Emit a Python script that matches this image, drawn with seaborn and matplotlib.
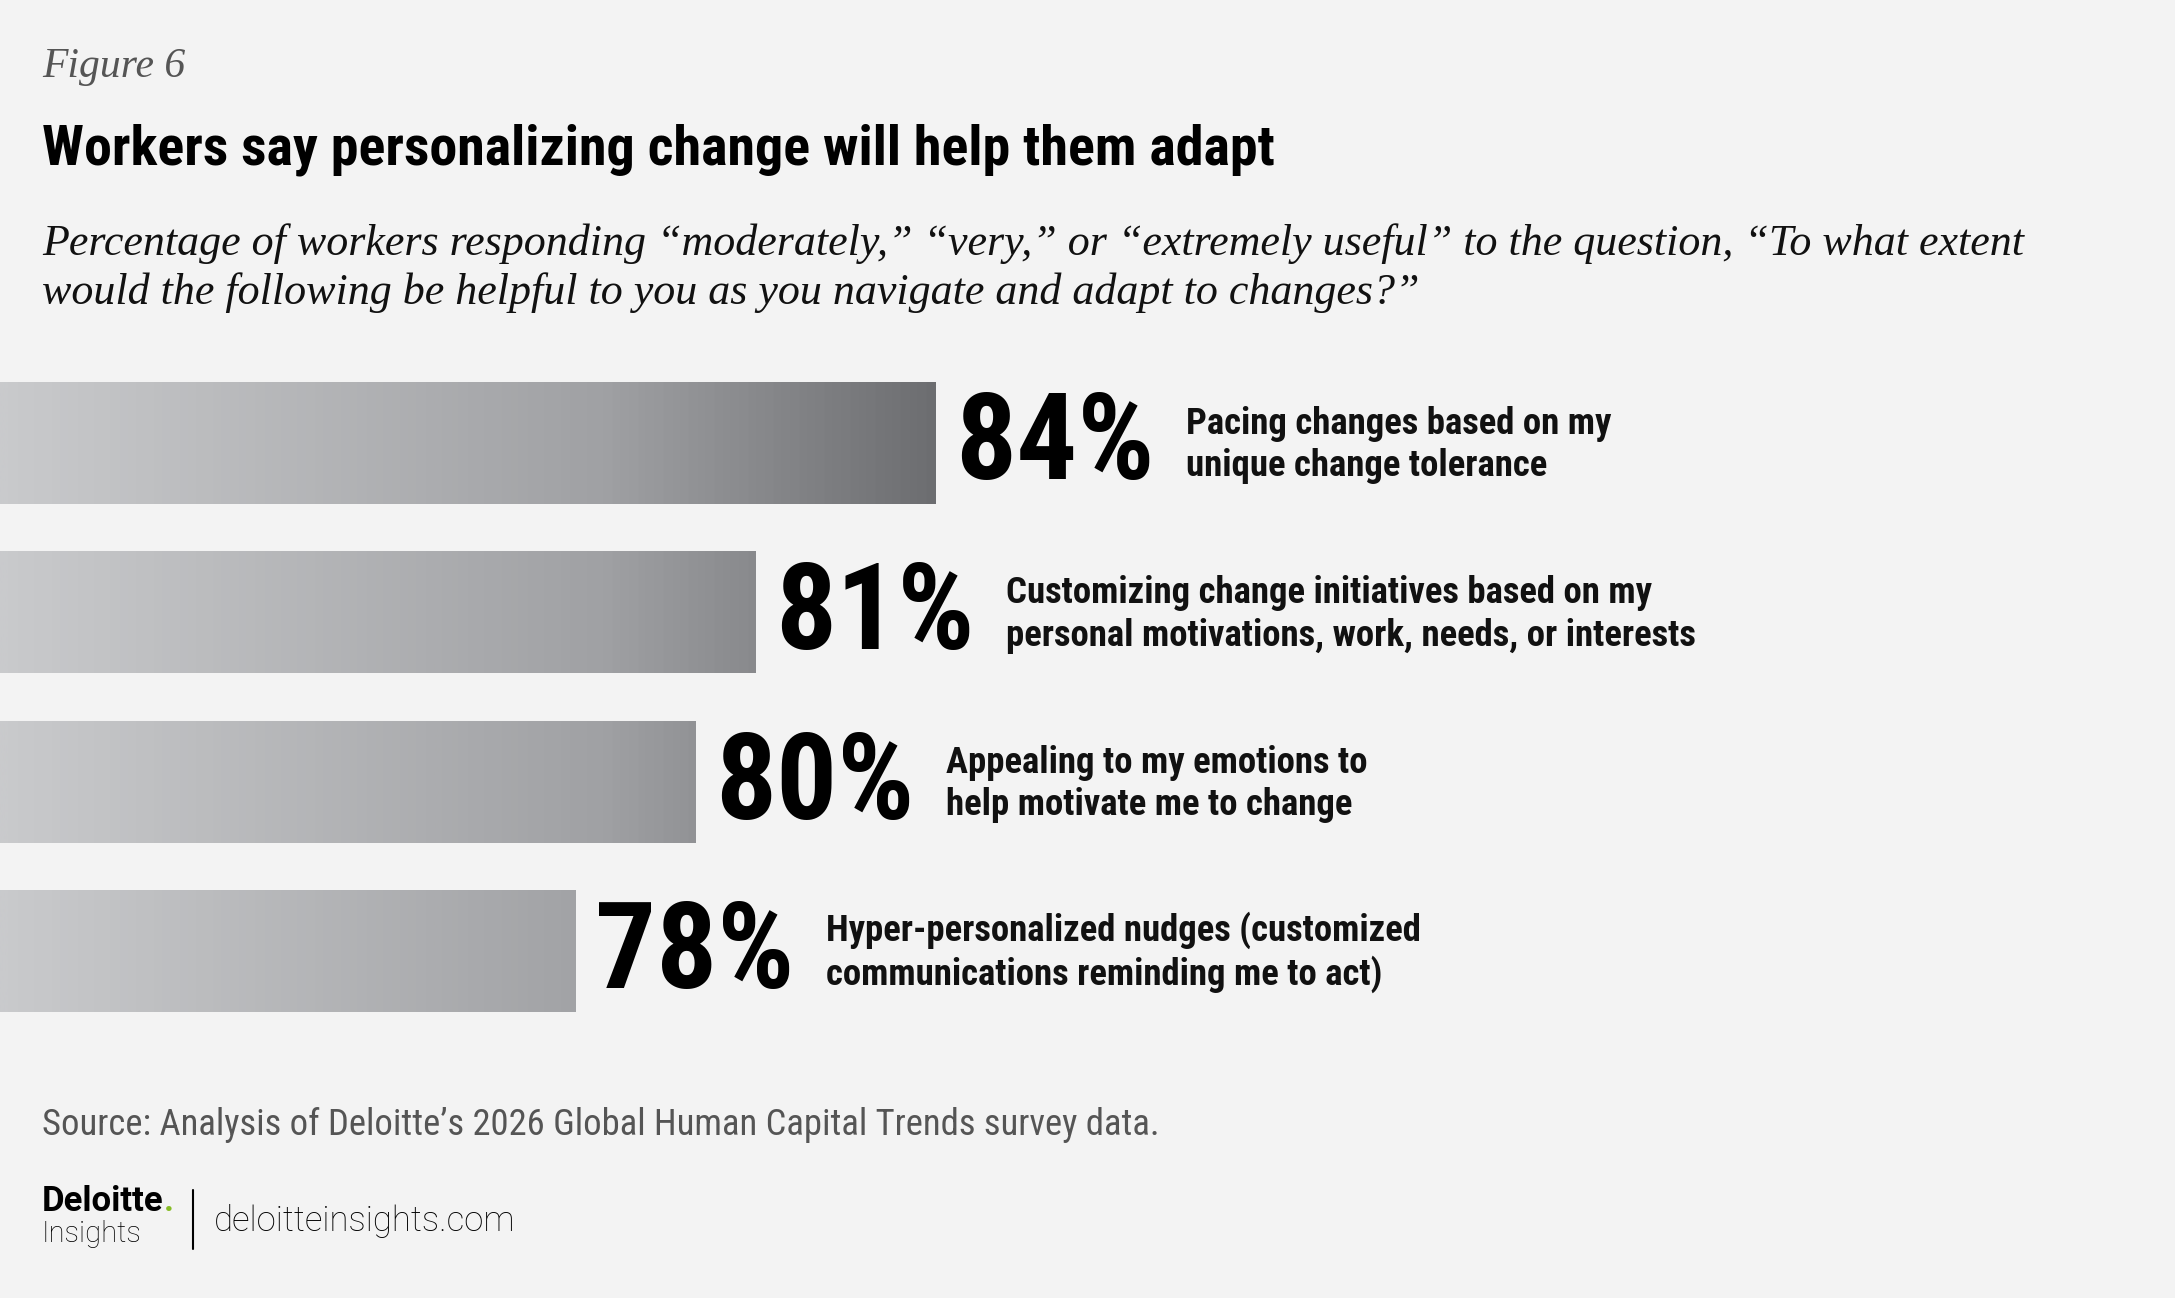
import matplotlib
matplotlib.use("Agg")
import matplotlib.pyplot as plt
from matplotlib import font_manager as fm
from matplotlib.colors import LinearSegmentedColormap
import numpy as np
import pandas as pd
import seaborn as sns

# ---------------- data ----------------
categories = [
    "Pacing changes based on my\nunique change tolerance",
    "Customizing change initiatives based on my\npersonal motivations, work, needs, or interests",
    "Appealing to my emotions to\nhelp motivate me to change",
    "Hyper-personalized nudges (customized\ncommunications reminding me to act)",
]
values = [84, 81, 80, 78]
value_labels = ["84%", "81%", "80%", "78%"]

fig_label = "Figure 6"
title = "Workers say personalizing change will help them adapt"
subtitle = ("Percentage of workers responding \u201cmoderately,\u201d \u201cvery,\u201d or \u201cextremely useful\u201d to the question, \u201cTo what extent\n"
            "would the following be helpful to you as you navigate and adapt to changes?\u201d")
source = "Source: Analysis of Deloitte\u2019s 2026 Global Human Capital Trends survey data."

# ---------------- style ----------------
sns.set_theme(style="white")
available = {f.name for f in fm.fontManager.ttflist}


def pick(*names):
    for n in names:
        if n in available:
            return n
    return "DejaVu Sans"


COND = pick("Liberation Sans Narrow", "DejaVu Sans Condensed", "Roboto Condensed", "Liberation Sans")
SERIF = pick("Liberation Serif", "DejaVu Serif")
SANS = pick("Roboto", "Lato", "Open Sans", "DejaVu Sans")
plt.rcParams["font.family"] = [COND, "DejaVu Sans"]

BG = "#f3f3f3"
W, H = 2175, 1298
fig = plt.figure(figsize=(W / 100, H / 100), dpi=100, facecolor=BG)


def fx(px):
    return px / W


def fy(py):
    return 1 - py / H


# ---------------- bars ----------------
XMIN = 68.4
XMAX = XMIN + W / 60.0
row_px = 169.6
top_px = 442.6 - 0.5 * row_px
ax_h = 4 * row_px
ax = fig.add_axes([0, fy(top_px + ax_h), 1, ax_h / H])
ax.set_facecolor("none")

df = pd.DataFrame({"category": categories, "value": values})
sns.barplot(data=df, x="value", y="category", orient="h", width=0.72,
            color="#a0a1a4", saturation=1, ax=ax)
ax.set_xlim(XMIN, XMAX)
ax.set_ylim(len(values) - 0.5, -0.5)

span = XMAX - XMIN
cmap = LinearSegmentedColormap.from_list(
    "bargrad",
    [(0.0, "#c9cacc"), ((78.4 - XMIN) / span, "#a0a1a4"),
     ((84 - XMIN) / span, "#6c6d70"), (1.0, "#2c2d30")])
grad = np.linspace(0, 1, 1200)[np.newaxis, :]
for patch in ax.patches:
    patch.set_edgecolor("none")
    im = ax.imshow(grad, extent=[XMIN, XMAX, len(values) - 0.5, -0.5],
                   aspect="auto", cmap=cmap, vmin=0, vmax=1, zorder=2)
    im.set_clip_path(patch)
ax.set_xlim(XMIN, XMAX)
ax.set_ylim(len(values) - 0.5, -0.5)
ax.axis("off")

for i, (v, lab, cat) in enumerate(zip(values, value_labels, categories)):
    ax.annotate(lab, xy=(v, i), xytext=(14, -26.5), textcoords="offset points",
                ha="left", va="baseline", fontsize=87, fontweight="bold",
                family=[COND, "DejaVu Sans"], color="#000000", zorder=5)
    # va='baseline' on multi-line text aligns the last line
    ax.annotate(cat, xy=(v, i), xytext=(180, -24), textcoords="offset points",
                ha="left", va="baseline", fontsize=26.5, fontweight="bold",
                family=[COND, "DejaVu Sans"], color="#111111",
                linespacing=1.22, zorder=5)

# ---------------- header ----------------
fig.text(fx(42), fy(77), fig_label, fontsize=30, style="italic",
         family=[SERIF, "DejaVu Serif"], color="#555555", ha="left", va="baseline")
fig.text(fx(42), fy(165), title, fontsize=40.3, fontweight="bold",
         family=[COND, "DejaVu Sans"], color="#000000", ha="left", va="baseline")
fig.text(fx(42), fy(304), subtitle, fontsize=31.7, style="italic",
         family=[SERIF, "DejaVu Serif"], color="#111111", ha="left", va="baseline",
         linespacing=1.25)

# ---------------- footer ----------------
fig.text(fx(42), fy(1135), source, fontsize=26.4, family=[COND, "DejaVu Sans"],
         color="#555555", ha="left", va="baseline")

t_del = fig.text(fx(42), fy(1211), "Deloitte", fontsize=25, fontweight="bold",
                 family=[SANS, "DejaVu Sans"], color="#000000", ha="left", va="baseline")
ax.annotate(".", xy=(1, 0), xycoords=t_del, xytext=(0, 0), textcoords="offset points",
            ha="left", va="bottom", fontsize=25, fontweight="bold",
            family=[SANS, "DejaVu Sans"], color="#86bc25", annotation_clip=False)
fig.text(fx(42), fy(1242), "Insights", fontsize=21, fontweight="light",
         family=[SANS, "DejaVu Sans"], color="#000000", ha="left", va="baseline")
fig.add_artist(matplotlib.lines.Line2D([fx(193), fx(193)], [fy(1190), fy(1249)],
                                       transform=fig.transFigure, color="#000000", lw=1.5))
fig.text(fx(214), fy(1231), "deloitteinsights.com", fontsize=25, fontweight="light",
         family=[SANS, "DejaVu Sans"], color="#000000", ha="left", va="baseline")

fig.savefig("out.png", dpi=100, facecolor=BG)
